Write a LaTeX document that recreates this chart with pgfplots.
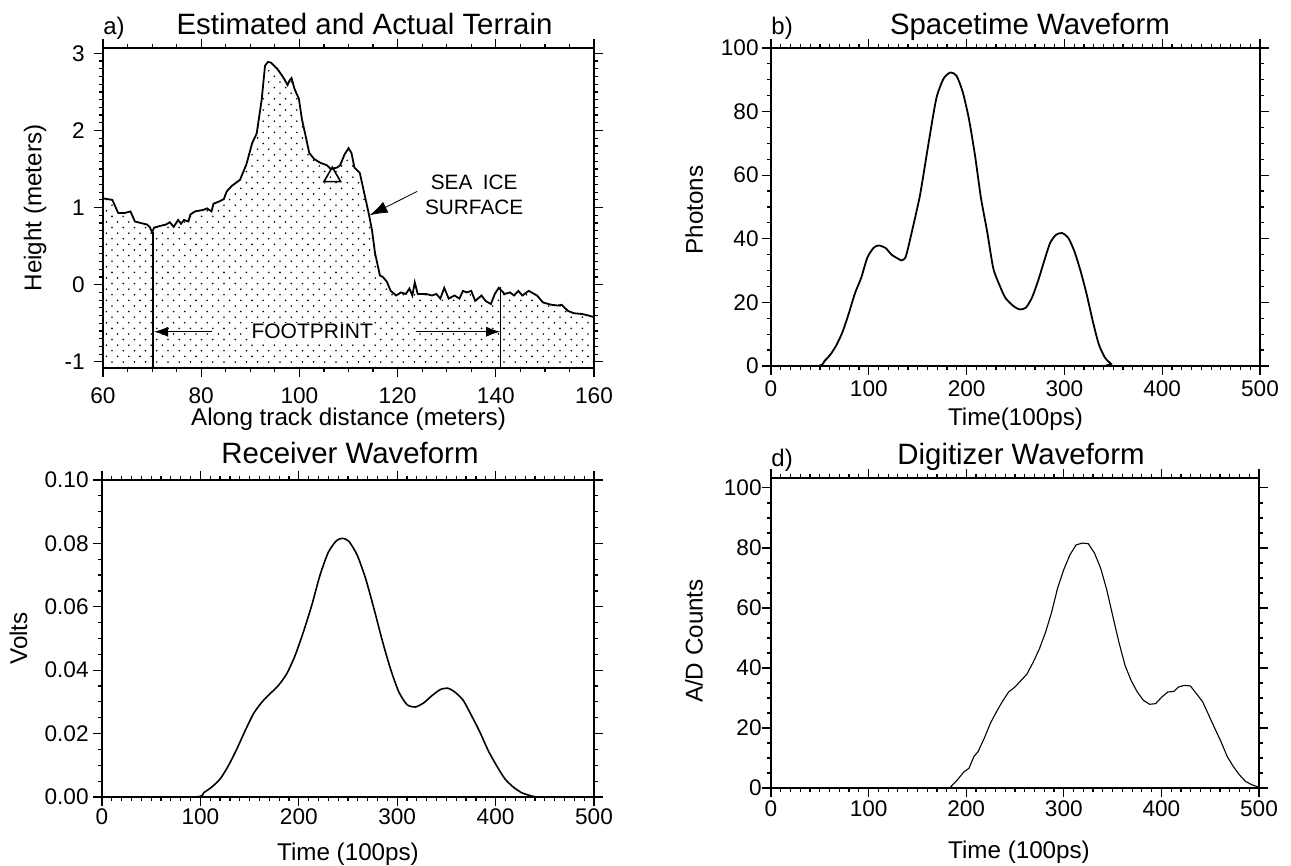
\documentclass[border=0pt]{standalone}
\usepackage{fontspec}
\setmainfont{Liberation Sans}
\usepackage{pgfplots}
\usepackage{pgfplotstable}
\pgfplotsset{compat=1.18}
\usetikzlibrary{patterns,arrows.meta}

% staggered sparse dots for the ice area
\pgfdeclarepatternformonly{icedots}{\pgfqpoint{-1pt}{-1pt}}{\pgfqpoint{4pt}{4pt}}{\pgfqpoint{5.6pt}{5.6pt}}{%
  \pgfpathcircle{\pgfqpoint{0pt}{0pt}}{0.45pt}%
  \pgfpathcircle{\pgfqpoint{2.8pt}{2.8pt}}{0.45pt}%
  \pgfusepath{fill}}

% a) terrain profile (meters)
\pgfplotstableread{
x y
60 1.12
61.9 1.10
63.1 0.93
64.4 0.93
65.6 0.95
66.5 0.82
67.7 0.80
69.0 0.78
69.5 0.75
70.0 0.68
70.4 0.74
71.5 0.76
72.8 0.78
73.6 0.81
74.4 0.75
75.3 0.84
75.9 0.79
76.5 0.84
77.4 0.82
77.8 0.91
78.7 0.95
80.4 0.97
81.2 0.99
82.1 0.95
82.5 1.05
83.7 1.08
84.6 1.11
85.2 1.21
86.2 1.28
87.9 1.36
89.2 1.56
90.4 1.84
91.3 1.96
92.3 2.39
93.0 2.84
93.6 2.89
94.2 2.88
95.5 2.80
96.7 2.69
97.6 2.59
98.0 2.65
98.4 2.68
99.0 2.54
99.9 2.41
100.5 2.15
101.4 1.89
102.0 1.71
103.0 1.63
104.3 1.58
105.6 1.55
106.4 1.50
107.7 1.52
108.3 1.55
109.2 1.69
110.0 1.77
110.6 1.71
111.2 1.52
112.3 1.45
113.2 1.19
114.2 0.90
114.8 0.70
115.4 0.41
116.4 0.12
117.0 0.10
117.8 0.04
118.6 -0.08
119.7 -0.14
120.7 -0.10
121.7 -0.12
122.4 -0.05
123.0 -0.14
123.5 0.03
124.1 -0.12
125.8 -0.12
127.0 -0.14
127.9 -0.12
128.7 -0.18
129.5 -0.04
130.4 -0.18
131.6 -0.14
132.6 -0.18
133.3 -0.08
134.1 -0.10
135.0 -0.08
135.8 -0.21
137.1 -0.14
137.9 -0.21
139.0 -0.25
139.8 -0.12
140.6 -0.04
141.8 -0.12
142.9 -0.10
143.7 -0.14
144.6 -0.08
145.4 -0.14
146.7 -0.08
148.4 -0.14
149.6 -0.23
151.3 -0.26
152.6 -0.27
153.4 -0.26
154.7 -0.34
155.9 -0.37
157.6 -0.38
158.9 -0.40
160 -0.42
}\terrain

% b) spacetime waveform (photons)
\pgfplotstableread{
x y
0 0
48 0
54.8 1.6
61 3.7
67.3 6.8
73.5 11
79.7 16.7
86 23
92.2 27.7
98.4 34
104.7 37.1
110 37.9
117.1 37.1
123.3 35
129.6 33.8
133.7 33.2
137.9 34.5
144.1 42.3
152.4 53.8
160.8 69.5
169 84.1
176.5 90.4
183.6 92.3
189.8 91.2
196 86.2
202.3 77.8
208.5 66.4
214.7 52.8
221 42.3
227.2 30.8
233.4 25.6
239.7 21.4
248 18.8
254.2 17.8
260.5 18.3
266.7 21.4
272.9 26.6
279.2 32.9
285.4 38.7
291.6 41.3
297.8 41.8
304.1 40.2
310.3 36
316.6 29.8
322.8 22.5
329 14.1
335.2 6.8
341.5 2.6
347.7 0.7
352 0
500 0
}\spacetime

% c) receiver waveform (volts)
\pgfplotstableread{
x y
0 0
94 0
103.4 0.0014
111.8 0.0032
120.3 0.0058
128.7 0.0100
137.1 0.0152
145.6 0.0210
154.0 0.0263
162.4 0.0299
170.9 0.0326
179.3 0.0352
187.8 0.0389
196.2 0.0446
204.6 0.0520
213.1 0.0604
221.5 0.0699
230.0 0.0772
238.4 0.0809
244.7 0.0816
251.1 0.0806
259.5 0.0762
268.0 0.0688
276.4 0.0594
284.8 0.0494
293.2 0.0404
301.7 0.0331
310.1 0.0291
318.6 0.0284
327.0 0.0297
335.4 0.0320
343.9 0.0339
351.5 0.0343
358.6 0.0331
367.1 0.0305
375.5 0.0257
384.0 0.0205
392.4 0.0147
400.8 0.0100
409.3 0.0058
417.7 0.0032
426.2 0.0014
434.6 0.0005
445 0
500 0
}\receiver

% d) digitizer waveform (A/D counts)
\pgfplotstableread{
x y
0 0
183 0
191.2 2.8
197.5 5.3
202.9 6.6
207.9 10.5
212.1 12.1
218.4 16.5
224.7 21.5
231.0 25.4
237.2 28.9
243.5 32.0
249.8 33.6
256.1 35.8
262.3 38.0
268.6 41.9
274.9 46.3
281.2 51.8
287.4 58.4
293.7 66.7
300.0 72.8
306.3 77.7
312.6 81.0
318.8 81.6
325.1 81.4
331.4 78.3
337.7 73.3
343.9 66.2
350.2 57.3
356.5 48.5
362.8 40.8
369.0 35.8
375.3 32.0
381.6 29.2
387.9 27.9
394.1 28.1
400.4 30.3
406.7 32.0
413.0 32.2
417.2 33.6
423.4 34.2
429.7 34.0
436.0 31.4
442.3 28.7
448.5 24.3
454.8 19.8
461.1 15.4
467.4 10.5
473.6 7.2
479.9 4.4
486.2 2.2
492.5 1.1
498.7 0.4
}\digitizer

\newcommand{\ttl}{\fontsize{14.7}{17}\selectfont}
\newcommand{\lett}{\fontsize{12}{14}\selectfont}
\newcommand{\lbl}{\fontsize{12.1}{14}\selectfont}

\pgfplotsset{
  panel/.style={
    scale only axis,
    anchor=south west,
    tick align=outside,
    major tick length=4.5pt,
    minor tick length=2pt,
    axis line style={line width=0.8pt},
    every tick/.style={black, line width=0.6pt},
    /pgf/number format/assume math mode=true,
    tick label style={font=\fontsize{11.3}{13}\selectfont, inner sep=0pt},
    every axis x label/.style={at={(axis description cs:0.5,0)}, anchor=north, font=\lbl, inner sep=0pt},
  },
  ylab/.style 2 args={every axis y label/.style={at={(axis description cs:#1,#2)}, rotate=90, anchor=center, font=\lbl, inner sep=0pt}},
}

\begin{document}
\begin{tikzpicture}
\useasboundingbox (0,0) rectangle (645.5pt,433pt);

% ---- a) ----
\begin{axis}[panel,
  at={(51.5pt,249pt)}, width=245.5pt, height=160pt,
  xmin=60, xmax=160, ymin=-1.08, ymax=3.07,
  xtick={60,80,...,160}, ytick={-1,0,1,2,3},
  minor x tick num=3, minor y tick num=9,
  xticklabel style={yshift=-5pt}, yticklabel style={xshift=-4.5pt},
  xlabel={Along track distance (meters)},
  xlabel style={yshift=-20pt},
  ylab={-0.1385}{0.5},
  ylabel={Height (meters)},
]
\addplot[draw=none, pattern=icedots, pattern color=black] table {\terrain} -- (160,-1.2) -- (60,-1.2) -- cycle;
\addplot[black, line width=0.9pt] table {\terrain};
\addplot[black, line width=0.6pt] coordinates {(70.2,-1.2) (70.2,0.69)};
\addplot[black, line width=0.6pt] coordinates {(141.0,-1.2) (141.0,-0.03)};
\addplot[only marks, mark=triangle, mark size=4.8pt, mark options={black, line width=0.8pt, fill=white}] coordinates {(106.7,1.40)};
\draw[line width=0.5pt, -{Latex[length=7pt,width=5pt]}] (axis cs:82.3,-0.61) -- (axis cs:70.4,-0.61);
\draw[line width=0.5pt, -{Latex[length=7pt,width=5pt]}] (axis cs:123.7,-0.61) -- (axis cs:140.9,-0.61);
\node[font=\fontsize{10.5}{12}\selectfont, fill=white, inner sep=0.8pt] at (axis cs:102.6,-0.61) {FOOTPRINT};
\node[font=\fontsize{10.4}{12.5}\selectfont, align=center] at (axis cs:135.6,1.165) {SEA\enspace ICE\\SURFACE};
\draw[line width=0.4pt, -{Latex[length=9pt,width=6pt]}] (axis cs:124.0,1.21) -- (axis cs:114.3,0.90);
\end{axis}

% ---- b) ----
\begin{axis}[panel,
  at={(385.5pt,250pt)}, width=244.5pt, height=159pt,
  xmin=0, xmax=500, ymin=0, ymax=100,
  xtick={0,100,...,500}, ytick={0,20,...,100},
  minor x tick num=9, minor y tick num=3,
  xticklabel style={yshift=-2.5pt}, yticklabel style={xshift=-1.5pt},
  xlabel={Time(100ps)},
  xlabel style={yshift=-21pt},
  ylab={-0.157}{0.49},
  ylabel={Photons},
]
\addplot[black, line width=0.9pt, smooth, tension=0.4] table {\spacetime};
\end{axis}

% ---- c) ----
\begin{axis}[panel,
  at={(51pt,34.5pt)}, width=246pt, height=158.5pt,
  xmin=0, xmax=500, ymin=0, ymax=0.1,
  xtick={0,100,...,500}, ytick={0,0.02,0.04,0.06,0.08,0.1},
  minor x tick num=9, minor y tick num=3,
  scaled y ticks=false,
  yticklabel style={xshift=-2pt, /pgf/number format/fixed, /pgf/number format/fixed zerofill, /pgf/number format/precision=2},
  xticklabel style={yshift=-1pt},
  xlabel={Time (100ps)},
  xlabel style={yshift=-23pt},
  ylab={-0.170}{0.5},
  ylabel={Volts},
]
\addplot[black, line width=0.8pt, smooth, tension=0.4] table {\receiver};
\end{axis}

% ---- d) ----
\begin{axis}[panel,
  at={(385.5pt,39pt)}, width=244pt, height=155pt,
  xmin=0, xmax=500, ymin=0, ymax=103.3,
  xtick={0,100,...,500}, ytick={0,20,...,100},
  minor x tick num=9, minor y tick num=3,
  xticklabel style={yshift=-1.5pt},
  xlabel={Time (100ps)},
  xlabel style={yshift=-26.5pt, xshift=2pt},
  ylab={-0.158}{0.474},
  ylabel={A/D Counts},
]
\addplot[black, line width=0.55pt] table {\digitizer};
\end{axis}

% titles and panel letters
\node[anchor=base, font=\ttl] at (182.25pt,415.5pt) {Estimated and Actual Terrain};
\node[anchor=base west, inner sep=0pt, font=\lett] at (51.5pt,415.5pt) {a)};
\node[anchor=base, font=\ttl] at (515pt,415.5pt) {Spacetime Waveform};
\node[anchor=base west, inner sep=0pt, font=\lett] at (385.5pt,415.5pt) {b)};
\node[anchor=base, font=\ttl] at (175pt,201pt) {Receiver Waveform};
\node[anchor=base, font=\ttl] at (510.5pt,200.5pt) {Digitizer Waveform};
\node[anchor=base west, inner sep=0pt, font=\lett] at (385.5pt,199.6pt) {d)};
\end{tikzpicture}
\end{document}
